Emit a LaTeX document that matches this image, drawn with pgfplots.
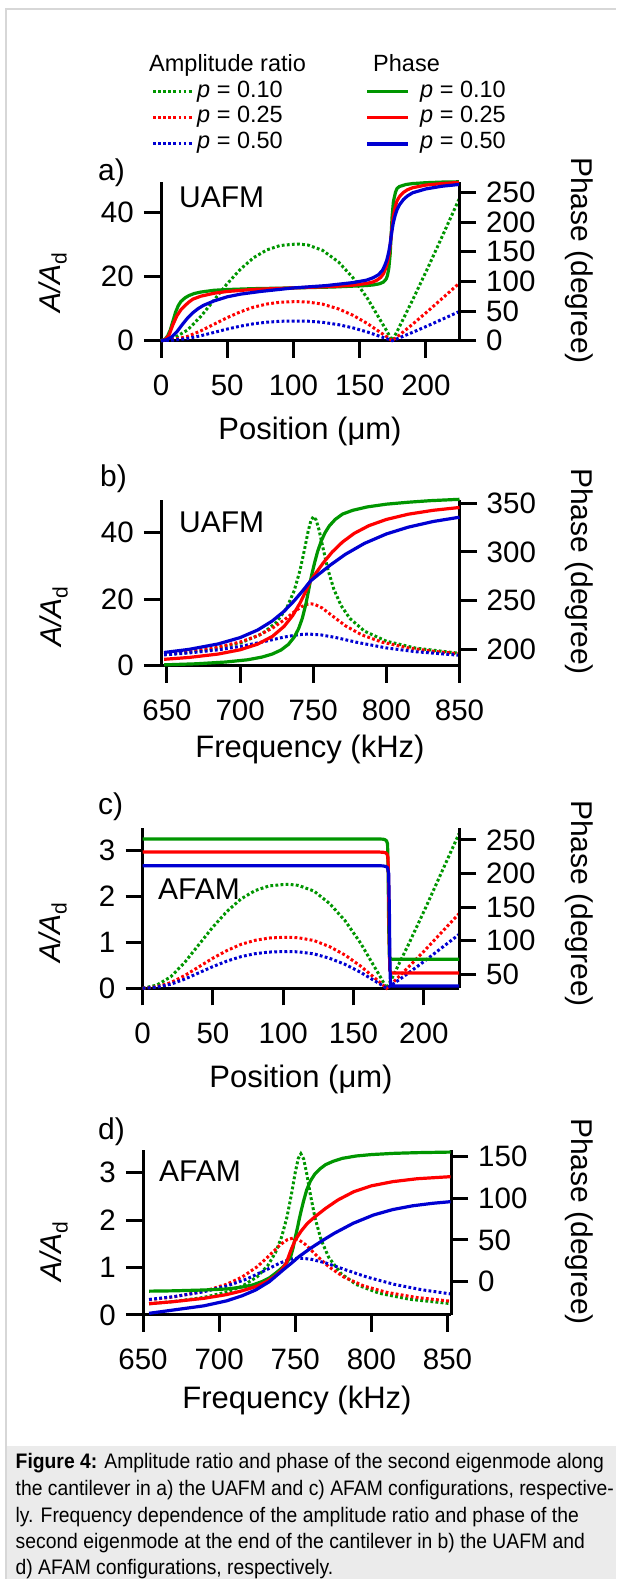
\documentclass[border=0pt]{standalone}
\usepackage{fontspec}
\setmainfont{Liberation Sans}
\newfontfamily\capfont{Liberation Sans}[FakeStretch=0.92]
\usepackage{pgfplots}
\pgfplotsset{compat=1.18}
\definecolor{cg}{RGB}{0,150,0}
\definecolor{cr}{RGB}{255,0,0}
\definecolor{cb}{RGB}{0,0,210}
\definecolor{framegray}{RGB}{215,215,215}
\definecolor{capgray}{RGB}{235,235,235}
\newcommand\tkf{\fontsize{29.5}{29.5}\selectfont}
\newcommand\lbf{\fontsize{30}{30}\selectfont}
\newcommand\xlf{\fontsize{31}{31}\selectfont}
\newcommand\lgf{\fontsize{23.5}{23.5}\selectfont}
\newcommand\cpf{\capfont\fontsize{21}{21}\selectfont}
\newcommand\AAd{\textit{A/A}\raisebox{-0.22em}{\fontsize{21}{21}\selectfont d}}
\tikzset{amp/.style={line width=3pt, dash pattern=on 2.8pt off 2.3pt},
         ph/.style={line width=3.2pt, line join=round}}
\pgfplotsset{
  base/.style={scale only axis, clip=false, anchor=south west,
    axis line style={-, line width=3pt},
    tick style={line width=3pt, black}, major tick length=17pt, tick align=outside,
    ticklabel style={font=\tkf, inner sep=0pt},
    /pgf/number format/assume math mode=true, minor tick num=0},
  leftax/.style={base, axis x line*=bottom, axis y line*=left,
    xticklabel style={anchor=north, yshift=-17pt},
    yticklabel style={anchor=east, xshift=-10pt}},
  rightax/.style={base, hide x axis, axis y line*=right,
    yticklabel style={anchor=west, xshift=10pt}},
}
\begin{document}
\begin{tikzpicture}[x=1pt,y=1pt]
\path[use as bounding box] (0,0) rectangle (616,1579);
\fill[white] (0,0) rectangle (616,1579);
\fill[capgray] (6,0) rectangle (616,133);
\draw[framegray, line width=1.5pt] (6,0) -- (6,1570) -- (616,1570);

% ---------- legend ----------
\node[font=\lgf, anchor=base west, inner sep=0pt] at (149,1507) {Amplitude ratio};
\node[font=\lgf, anchor=base west, inner sep=0pt] at (373,1507) {Phase};
\draw[cg, amp] (153,1487.3) -- (193,1487.3);
\draw[cr, amp] (153,1461.3) -- (193,1461.3);
\draw[cb, amp] (153,1435) -- (193,1435);
\draw[cg, ph] (367,1487.3) -- (408,1487.3);
\draw[cr, ph] (367,1461.3) -- (408,1461.3);
\draw[cb, ph] (367,1435) -- (408,1435);
\node[font=\lgf, anchor=base west, inner sep=0pt] at (197,1481) {\textit{p} = 0.10};
\node[font=\lgf, anchor=base west, inner sep=0pt] at (197,1456) {\textit{p} = 0.25};
\node[font=\lgf, anchor=base west, inner sep=0pt] at (197,1430) {\textit{p} = 0.50};
\node[font=\lgf, anchor=base west, inner sep=0pt] at (420,1481) {\textit{p} = 0.10};
\node[font=\lgf, anchor=base west, inner sep=0pt] at (420,1456) {\textit{p} = 0.25};
\node[font=\lgf, anchor=base west, inner sep=0pt] at (420,1430) {\textit{p} = 0.50};

% ---------- panel a ----------
\begin{axis}[leftax, at={(161pt,1238.3pt)}, width=298pt, height=159pt,
  xmin=0, xmax=225, ymin=0, ymax=49.7, xtick={0,50,...,200}, ytick={0,20,40}]
\addplot[cg, amp] coordinates {(0,0) (10,0.91) (20,3.32) (30,7.55) (40,12.68) (50,17.82) (60,22.35) (70,25.97) (80,28.39) (90,29.75) (100,30.14) (104,30.2) (111,29.90) (122,28.24) (134,24.61) (145,19.63) (156,13.14) (167,5.44) (170.5,3.02) (174.5,0) (178.5,3.09) (190.1,12.82) (201.7,22.98) (213.4,33.59) (225,44.2)};
\addplot[cr, amp] coordinates {(0,0) (10,0.37) (20,1.34) (30,3.05) (40,5.12) (50,7.20) (60,9.03) (70,10.49) (80,11.47) (90,12.02) (100,12.18) (104,12.2) (111,12.08) (122,11.41) (134,9.94) (145,7.93) (156,5.31) (167,2.20) (170.5,1.22) (174.5,0) (178.5,1.25) (190.1,5.19) (201.7,9.31) (213.4,13.60) (225,17.9)};
\addplot[cb, amp] coordinates {(0,0) (10,0.18) (20,0.68) (30,1.54) (40,2.58) (50,3.63) (60,4.55) (70,5.29) (80,5.78) (90,6.06) (100,6.14) (104,6.15) (111,6.09) (122,5.75) (134,5.01) (145,4.00) (156,2.68) (167,1.11) (170.5,0.62) (174.5,0) (178.5,0.63) (190.1,2.63) (201.7,4.71) (213.4,6.89) (225,9.06)};
\end{axis}
\begin{axis}[rightax, at={(161pt,1238.3pt)}, width=298pt, height=159pt,
  xmin=0, xmax=225, ymin=0, ymax=268.2, ytick={0,50,...,250}]
\addplot[cg, ph] coordinates {(0,0) (3,2.5) (5,8) (7,18) (9,33) (11,48) (13,59) (15,66) (18,72) (21,76) (25,79.5) (30,82) (40,85) (50,86.3) (70,87.8) (100,89) (130,90.5) (145,92) (155,93) (160,94) (165,96) (168,99) (170,104) (171,110) (172,122) (173,145) (173.7,175) (174.5,210) (175.5,235) (177,250) (178.2,256.7) (180,260) (185,263.5) (190,265) (200,266.5) (212,267.5) (225,268)};
\addplot[cr, ph] coordinates {(0,0) (3,1.5) (6,9) (9,27) (12,42) (15,52) (18,59) (21,65) (24,70) (30,75) (40,80) (50,83) (70,86.5) (100,89) (130,91.5) (145,93.6) (155,96.5) (160,99) (163,102) (166,107) (168,113) (170,124) (171,132) (172,143) (173,160) (173.7,175) (174.5,193) (175.5,210) (176.5,222) (178,235) (180,243) (183,250) (186,254.5) (190,258) (200,262.5) (212,265) (225,267)};
\addplot[cb, ph] coordinates {(0,0) (4,1.5) (8,6) (12,15) (16,27) (20,38) (24,47) (28,54) (32,59.5) (40,67) (50,74) (60,78.5) (75,83) (100,89) (125,93) (145,98) (155,102) (160,106) (164,111) (167,118) (169,127) (170.5,136) (172,150) (173,163) (173.7,175) (174.5,187) (175.5,200) (177,213) (178.2,221) (180,229) (183,238) (186,244) (190,249.5) (200,256) (212,260.5) (225,263.5)};
\end{axis}

% ---------- panel b ----------
\begin{axis}[leftax, at={(161pt,913.3pt)}, width=298.5pt, height=165.7pt,
  xmin=645.9, xmax=850, ymin=0, ymax=49.8, xtick={650,700,...,850}, ytick={0,20,40}]
\addplot[cg, amp] coordinates {(648,3.36) (660,3.81) (680,4.88) (700,6.79) (715,9.57) (725,13.09) (732,17.45) (737,22.57) (741,28.75) (744,34.90) (746.5,40.38) (748.5,43.75) (750.2,44.8) (752,43.78) (754,40.73) (756.5,35.69) (760,28.95) (764,23.09) (769,18.09) (775,14.22) (785,10.39) (800,7.36) (820,5.29) (850,3.71)};
\addplot[cr, amp] coordinates {(648,3.64) (665,4.34) (685,5.60) (700,7.12) (712,8.98) (722,11.26) (730,13.72) (737,16.19) (742,17.74) (746,18.48) (748.3,18.6) (751,18.43) (756,17.36) (763,14.99) (772,12.00) (783,9.29) (797,7.07) (815,5.34) (832,4.32) (850,3.59)};
\addplot[cb, amp] coordinates {(648,3.24) (665,3.82) (685,4.77) (700,5.78) (715,7.10) (730,8.59) (740,9.33) (747,9.5) (755,9.27) (765,8.50) (780,7.00) (800,5.34) (820,4.20) (850,3.13)};
\end{axis}
\begin{axis}[rightax, at={(161pt,913.3pt)}, width=298.5pt, height=165.7pt,
  xmin=645.9, xmax=850, ymin=183.15, ymax=353.4, ytick={200,250,300,350}]
\addplot[cg, ph] coordinates {(648,184.0) (670,185.1) (690,186.9) (705,189.2) (715,192.0) (722,195.1) (728,199.3) (733,205.0) (737,212.5) (740,221.2) (742.5,231.8) (745,246.8) (746.5,257.9) (748,270) (749.5,280.0) (751,289.4) (753,300.5) (755.5,311.4) (758,319.6) (761,326.8) (765,333.4) (770,338.9) (777,342.8) (787,346.3) (800,349.1) (815,351.1) (830,352.7) (850,354.1)};
\addplot[cr, ph] coordinates {(648,189.7) (665,191.6) (685,195.1) (700,199.5) (712,205.3) (722,213.2) (730,223.4) (736,234.8) (741,247.6) (745,260.0) (748,270) (752,278.7) (757,289.1) (763,300.0) (770,310.2) (778,319.1) (788,327.0) (800,333.4) (815,338.8) (832,342.8) (850,345.7)};
\addplot[cb, ph] coordinates {(648,196.7) (665,199.9) (685,205.5) (700,212.0) (712,219.8) (722,229.1) (730,239.0) (737,249.9) (743,260.5) (748,270) (754,277.4) (762,286.9) (772,297.6) (785,308.8) (800,318.5) (815,325.5) (832,331.3) (850,335.7)};
\end{axis}

% ---------- panel c ----------
\begin{axis}[leftax, at={(142.6pt,590.7pt)}, width=316.4pt, height=160.3pt,
  xmin=0, xmax=225, ymin=0, ymax=3.485, xtick={0,50,...,200}, ytick={0,1,2,3}]
\addplot[cg, amp] coordinates {(0,0) (10,0.068) (20,0.249) (30,0.565) (40,0.949) (50,1.333) (60,1.672) (70,1.944) (80,2.124) (90,2.226) (100,2.255) (104,2.26) (110.8,2.237) (121.9,2.113) (133,1.842) (144,1.469) (155,0.983) (166,0.407) (169.5,0.226) (173.5,0) (177.6,0.235) (189.4,0.974) (201.2,1.747) (213.1,2.554) (225,3.36)};
\addplot[cr, amp] coordinates {(0,0) (10,0.033) (20,0.122) (30,0.278) (40,0.466) (50,0.655) (60,0.821) (70,0.955) (80,1.043) (90,1.093) (100,1.108) (104,1.11) (110.8,1.099) (121.9,1.038) (133,0.905) (144,0.722) (155,0.483) (166,0.200) (169.5,0.111) (173.5,0) (177.6,0.113) (189.4,0.470) (201.2,0.842) (213.1,1.231) (225,1.62)};
\addplot[cb, amp] coordinates {(0,0) (10,0.024) (20,0.088) (30,0.200) (40,0.336) (50,0.472) (60,0.592) (70,0.688) (80,0.752) (90,0.788) (100,0.798) (104,0.80) (110.8,0.792) (121.9,0.748) (133,0.652) (144,0.520) (155,0.348) (166,0.144) (169.5,0.080) (173.5,0) (177.6,0.082) (189.4,0.339) (201.2,0.608) (213.1,0.889) (225,1.17)};
\end{axis}
\begin{axis}[rightax, at={(142.6pt,590.7pt)}, width=316.4pt, height=160.3pt,
  xmin=0, xmax=225, ymin=28.7, ymax=267.9, ytick={50,100,...,250}]
\addplot[cg, ph] coordinates {(0,251.5) (168,251.5) (171,251.2) (172.5,250.3) (173.5,248.5) (174.2,244) (174.6,200) (175,120) (175.5,76) (176.5,72.3) (178,72) (225,72)};
\addplot[cr, ph] coordinates {(0,232) (168,232) (171,231.7) (172.8,230.8) (173.8,229) (174.5,224) (175,180) (175.4,100) (175.8,56) (176.7,51.8) (178,51.5) (225,51.5)};
\addplot[cb, ph] coordinates {(0,211.6) (168,211.6) (171,211.3) (173,210.5) (174.2,208.5) (175,200) (175.5,140) (175.9,60) (176.3,35) (177,32.3) (178,32) (225,32)};
\end{axis}

% ---------- panel d ----------
\begin{axis}[leftax, at={(143pt,264pt)}, width=308pt, height=165pt,
  xmin=650, xmax=852.3, ymin=0, ymax=3.48, xtick={650,700,...,850}, ytick={0,1,2,3}]
\addplot[cg, amp] coordinates {(654,0.238) (670,0.283) (690,0.371) (705,0.484) (715,0.605) (725,0.806) (732,1.044) (737,1.314) (741,1.641) (744.5,2.058) (747.5,2.545) (750,3.006) (752,3.304) (753.7,3.40) (755.5,3.293) (757.5,2.988) (760,2.527) (763,2.045) (767,1.584) (772,1.215) (780,0.875) (790,0.644) (805,0.460) (825,0.332) (852,0.240)};
\addplot[cr, amp] coordinates {(654,0.319) (670,0.381) (690,0.500) (705,0.649) (715,0.799) (725,1.018) (733,1.255) (740,1.479) (745,1.593) (748.5,1.62) (752,1.593) (757,1.479) (764,1.255) (772,1.018) (782,0.799) (795,0.613) (810,0.478) (830,0.368) (852,0.291)};
\addplot[cb, amp] coordinates {(654,0.328) (670,0.386) (690,0.491) (705,0.610) (718,0.757) (730,0.937) (740,1.097) (747,1.178) (752.4,1.20) (760,1.179) (770,1.098) (782,0.965) (797,0.801) (815,0.646) (833,0.533) (852,0.445)};
\end{axis}
\begin{axis}[rightax, at={(143pt,264pt)}, width=308pt, height=165pt,
  xmin=650, xmax=852.3, ymin=-40, ymax=158, ytick={0,50,100,150}]
\addplot[cg, ph] coordinates {(654,-11.4) (670,-11) (690,-10) (705,-8.8) (715,-6.5) (722,-4) (728,0) (733,4.5) (737,10) (740,14.5) (743,19.5) (745,24.5) (747,30) (748.5,40) (750,53) (751.5,65) (752.5,74) (754,86) (755.5,97) (757.5,110) (760,121) (763,129.5) (766,135) (770,140.5) (775,144.5) (781,148) (790,150.8) (800,152.5) (815,154) (830,154.8) (852,155.5)};
\addplot[cr, ph] coordinates {(654,-26.5) (670,-24) (690,-20) (705,-15.5) (715,-11) (724,-6) (731,0) (737,7) (741,14) (744,22) (747,37) (750,50) (754,61) (758,70) (763,78) (770,88) (778,98) (788.5,108) (800,115) (814,120) (830,123.5) (852,126)};
\addplot[cb, ph] coordinates {(654,-38) (670,-34) (690,-29) (705,-23) (715,-17) (724,-10) (733,0) (742,14) (748,23) (752.4,30) (760,40) (768,49.5) (775.6,58) (788,70) (801.4,80) (814,86.5) (827,91) (840,94) (852,96)};
\end{axis}

% ---------- labels ----------
\begin{scope}[every node/.style={font=\lbf, inner sep=0pt}]
\node[anchor=base west] at (98,1398) {a)};
\node[anchor=base west] at (100,1092) {b)};
\node[anchor=base west] at (98,764) {c)};
\node[anchor=base west] at (98,439) {d)};
\node[anchor=base west] at (179,1371) {UAFM};
\node[anchor=base west] at (179,1046) {UAFM};
\node[anchor=base west] at (158,679) {AFAM};
\node[anchor=base west] at (159,397) {AFAM};
\node[anchor=base west, rotate=90] at (60,1266) {\AAd};
\node[anchor=base west, rotate=90] at (61,932) {\AAd};
\node[anchor=base west, rotate=90] at (60,616) {\AAd};
\node[anchor=base west, rotate=90] at (61,297) {\AAd};
\node[anchor=base west, rotate=-90] at (571,1422) {Phase (degree)};
\node[anchor=base west, rotate=-90] at (571,1111) {Phase (degree)};
\node[anchor=base west, rotate=-90] at (571,779) {Phase (degree)};
\node[anchor=base west, rotate=-90] at (571,461) {Phase (degree)};
\node[anchor=base, font=\xlf] at (310,1139) {Position (μm)};
\node[anchor=base, font=\xlf] at (310,821) {Frequency (kHz)};
\node[anchor=base, font=\xlf] at (301,491) {Position (μm)};
\node[anchor=base, font=\xlf] at (297,170) {Frequency (kHz)};
\end{scope}

% ---------- caption ----------
\begin{scope}[every node/.style={font=\cpf, inner sep=0pt, anchor=base west}]
\node at (15.5,110) {\textbf{Figure 4:} Amplitude ratio and phase of the second eigenmode along};
\node at (15.5,83.3) {the cantilever in a) the UAFM and c) AFAM configurations, respective-};
\node at (15.5,56.7) {ly. Frequency dependence of the amplitude ratio and phase of the};
\node at (15.5,30) {second eigenmode at the end of the cantilever in b) the UAFM and};
\node at (15.5,5) {d) AFAM configurations, respectively.};
\end{scope}
\end{tikzpicture}
\end{document}
